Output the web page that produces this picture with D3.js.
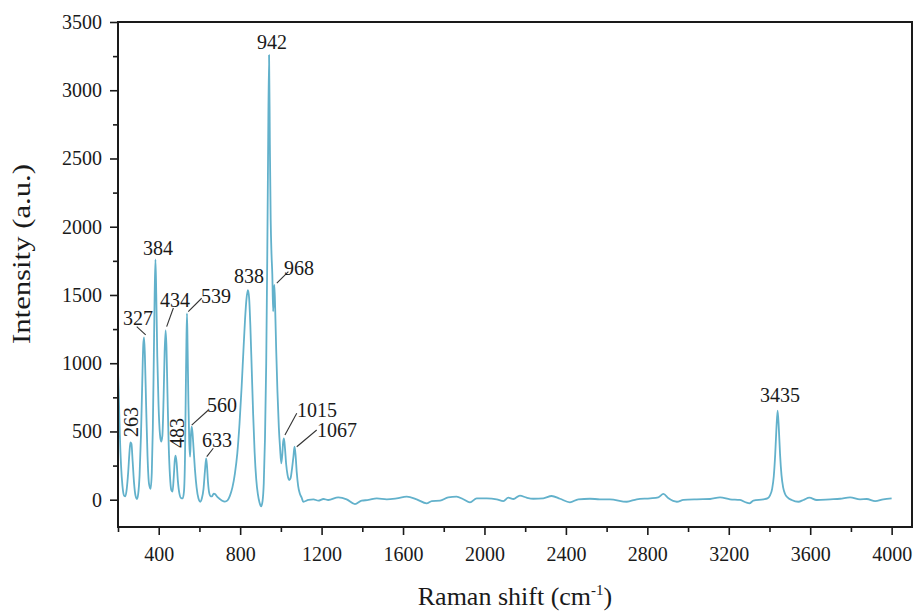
<!DOCTYPE html>
<html>
<head>
    <script src="https://d3js.org/d3.v7.min.js"></script>
    <style>
        body {
            margin: 0;
            background: #ffffff;
            font-family: 'Liberation Serif', 'Times New Roman', serif;
        }
        #chart text {
            fill: #1a1a1a;
        }
    </style>
</head>
<body>
<div id="chart"></div>
<script>
// Raman spectrum
const wavenumber = [
    200, 204, 209, 215, 222, 230, 236, 243, 250, 256, 261, 266, 272, 279, 286, 293, 299,
    306, 313, 319, 324, 328, 332, 338, 345, 352, 360, 366, 371, 376, 380, 384, 388, 393,
    399, 406, 412, 418, 424, 429, 434, 438, 443, 449, 455, 462, 468, 474, 479, 483, 488,
    494, 501, 510, 518, 524, 529, 533, 536, 539, 542, 546, 550, 554, 558, 562, 566, 571,
    578, 586, 595, 604, 612, 620, 627, 633, 637, 642, 648, 655, 662, 670, 678, 688, 700,
    712, 725, 738, 750, 762, 774, 786, 797, 807, 816, 824, 831, 838, 844, 850, 857, 864,
    871, 879, 887, 895, 903, 910, 916, 922, 928, 933, 937, 942, 946, 950, 954, 958, 962,
    965, 968, 972, 977, 983, 990, 996, 1002, 1007, 1011, 1015, 1020, 1026, 1033, 1041,
    1048, 1055, 1062, 1067, 1072, 1078, 1085, 1093, 1102, 1110, 1135, 1160, 1184, 1209,
    1233, 1282, 1323, 1364, 1397, 1430, 1471, 1520, 1569, 1618, 1667, 1716, 1741, 1782,
    1822, 1863, 1896, 1929, 1962, 2011, 2060, 2093, 2117, 2142, 2174, 2207, 2240, 2289,
    2330, 2371, 2420, 2461, 2518, 2567, 2616, 2699, 2748, 2814, 2854, 2879, 2904, 2945,
    2977, 3043, 3108, 3157, 3206, 3255, 3288, 3301, 3321, 3370, 3390, 3402, 3413, 3421,
    3428, 3434, 3440, 3446, 3452, 3459, 3467, 3477, 3490, 3509, 3542, 3567, 3596, 3632,
    3698, 3747, 3796, 3845, 3878, 3919, 3959, 4000
];
const intensity = [
    950, 760, 480, 250, 100, 30, 25, 80, 200, 340, 420, 410, 280, 120, 30, 5, 40,
    180, 480, 850, 1130, 1190, 1060, 700, 320, 120, 80, 200, 520, 1050, 1500, 1760, 1500, 1050,
    700, 480, 425, 470, 750, 1080, 1240, 1120, 780, 400, 180, 70, 60, 170, 290, 322, 270,
    140, 50, 12, 10, 60, 300, 800, 1150, 1365, 1100, 700, 420, 315, 470, 535, 490, 380,
    220, 90, 10, -15, 10, 80, 210, 303, 250, 130, 50, 25, 25, 45, 40, 20, 5,
    -8, -14, -5, 30, 90, 190, 340, 560, 820, 1090, 1320, 1470, 1536, 1480, 1280, 950, 620,
    350, 150, 40, -20, -49, -10, 120, 450, 1000, 1750, 2500, 3258, 2600, 2050, 1800, 1650, 1380,
    1500, 1573, 1400, 1100, 800, 530, 380, 266, 330, 420, 449, 380, 260, 180, 144,
    160, 230, 320, 388, 330, 200, 100, 45, 15, -15, -2, 3, -7, 5,
    -2, 17, 3, -32, -7, -2, 10, 3, 10, 22, 3, -27, -10, -7,
    17, 22, 3, -19, 10, 10, 3, -10, 15, 5, 30, 15, 7, 10,
    27, 7, -19, 3, 7, 3, 3, -15, 3, 10, 17, 42, 10, -15,
    -2, 3, 5, 17, 3, -2, -22, -27, -7, 3, 10, 30, 80, 170,
    330, 520, 653, 520, 330, 180, 90, 40, 15, -2, -15, -2, 15, -2,
    3, 7, 17, 3, 5, -10, 3, 10
];

const xTicks = [400, 800, 1200, 1600, 2000, 2400, 2800, 3200, 3600, 4000];
const xMinorTicks = [200, 600, 1000, 1400, 1800, 2200, 2600, 3000, 3400, 3800];
const yTicks = [0, 500, 1000, 1500, 2000, 2500, 3000, 3500];
const yMinorTicks = [250, 750, 1250, 1750, 2250, 2750, 3250];

// peak labels: text, label anchor (wavenumber, intensity), optional leader line
const peakLabels = ["942", "384", "838", "968", "327", "434", "539", "263", "483", "560", "633", "1015", "1067", "3435"];
const labelX = [956, 396, 843, 1089, 298, 480, 681, 264, 490, 711, 686, 1178, 1276, 3452];
const labelY = [3302, 1793, 1588, 1646, 1280, 1412, 1441, 569, 489, 643, 386, 606, 459, 716];
const labelRotated = [false, false, false, false, false, false, false, true, true, false, false, false, false, false];
const leaders = [
    null, null, null,
    [980, 1586, 1037, 1671],
    [292, 1268, 336, 1207],
    [472, 1405, 439, 1268],
    [611, 1476, 545, 1378],
    null, null,
    [644, 657, 562, 547],
    [668, 377, 636, 315],
    [1078, 633, 1020, 474],
    [1176, 511, 1078, 388],
    null
];

const renderSpectrum = () => {
    const width = 915;
    const height = 612;
    const margin = { top: 22, right: 3, bottom: 85, left: 118 };
    const innerW = width - margin.left - margin.right;
    const innerH = height - margin.top - margin.bottom;

    const svg = d3.select("#chart")
        .append("svg")
        .attr("width", width)
        .attr("height", height);

    const g = svg.append("g")
        .attr("transform", `translate(${margin.left},${margin.top})`);

    const x = d3.scaleLinear().domain([200, 4100]).range([0, innerW]);
    const y = d3.scaleLinear().domain([-200, 3500]).range([innerH, 0]);

    // axes: major + minor ticks, outward
    const styleAxis = (sel) => {
        sel.select(".domain").remove();
        sel.selectAll("line").attr("stroke", "#1a1a1a").attr("stroke-width", 1.6);
        sel.selectAll("text")
            .style("font-family", "'Liberation Serif', serif")
            .style("font-size", "20px");
    };

    g.append("g")
        .attr("transform", `translate(0,${innerH})`)
        .call(d3.axisBottom(x).tickValues(xTicks).tickSize(8).tickSizeOuter(0).tickPadding(12).tickFormat(d3.format("d")))
        .call(styleAxis);
    g.append("g")
        .attr("transform", `translate(0,${innerH})`)
        .call(d3.axisBottom(x).tickValues(xMinorTicks).tickSize(5).tickSizeOuter(0).tickFormat(""))
        .call(styleAxis);

    g.append("g")
        .call(d3.axisLeft(y).tickValues(yTicks).tickSize(8).tickSizeOuter(0).tickPadding(8).tickFormat(d3.format("d")))
        .call(styleAxis);
    g.append("g")
        .call(d3.axisLeft(y).tickValues(yMinorTicks).tickSize(5).tickSizeOuter(0).tickFormat(""))
        .call(styleAxis);

    // spectrum
    const points = wavenumber.map((w, i) => ({ w, v: intensity[i] }));
    const line = d3.line()
        .x(d => x(d.w))
        .y(d => y(d.v))
        .curve(d3.curveMonotoneX);

    g.append("path")
        .datum(points)
        .attr("d", line)
        .attr("fill", "none")
        .attr("stroke", "#62b1cb")
        .attr("stroke-width", 1.8)
        .attr("stroke-linejoin", "round");

    // frame
    g.append("rect")
        .attr("width", innerW)
        .attr("height", innerH)
        .attr("fill", "none")
        .attr("stroke", "#1a1a1a")
        .attr("stroke-width", 2);

    // leader lines
    leaders.forEach(l => {
        if (!l) return;
        g.append("line")
            .attr("x1", x(l[0])).attr("y1", y(l[1]))
            .attr("x2", x(l[2])).attr("y2", y(l[3]))
            .attr("stroke", "#333")
            .attr("stroke-width", 1.1);
    });

    // peak labels
    peakLabels.forEach((t, i) => {
        const px = x(labelX[i]);
        const py = y(labelY[i]);
        const txt = g.append("text")
            .attr("text-anchor", "middle")
            .style("font-size", "20px")
            .text(t);
        if (labelRotated[i]) {
            txt.attr("transform", `translate(${px},${py}) rotate(-90)`)
                .attr("dy", "0.35em");
        } else {
            txt.attr("x", px).attr("y", py);
        }
    });

    // axis titles
    const xt = svg.append("text")
        .attr("x", 515)
        .attr("y", 605)
        .attr("text-anchor", "middle")
        .style("font-size", "26px");
    xt.append("tspan").text("Raman shift (cm");
    xt.append("tspan").attr("dy", "-10").style("font-size", "15px").text("-1");
    xt.append("tspan").attr("dy", "10").text(")");

    svg.append("text")
        .attr("transform", "translate(30,254) rotate(-90)")
        .attr("text-anchor", "middle")
        .attr("textLength", 180)
        .attr("lengthAdjust", "spacingAndGlyphs")
        .style("font-size", "25px")
        .text("Intensity (a.u.)");
};

renderSpectrum();
</script>
</body>
</html>
